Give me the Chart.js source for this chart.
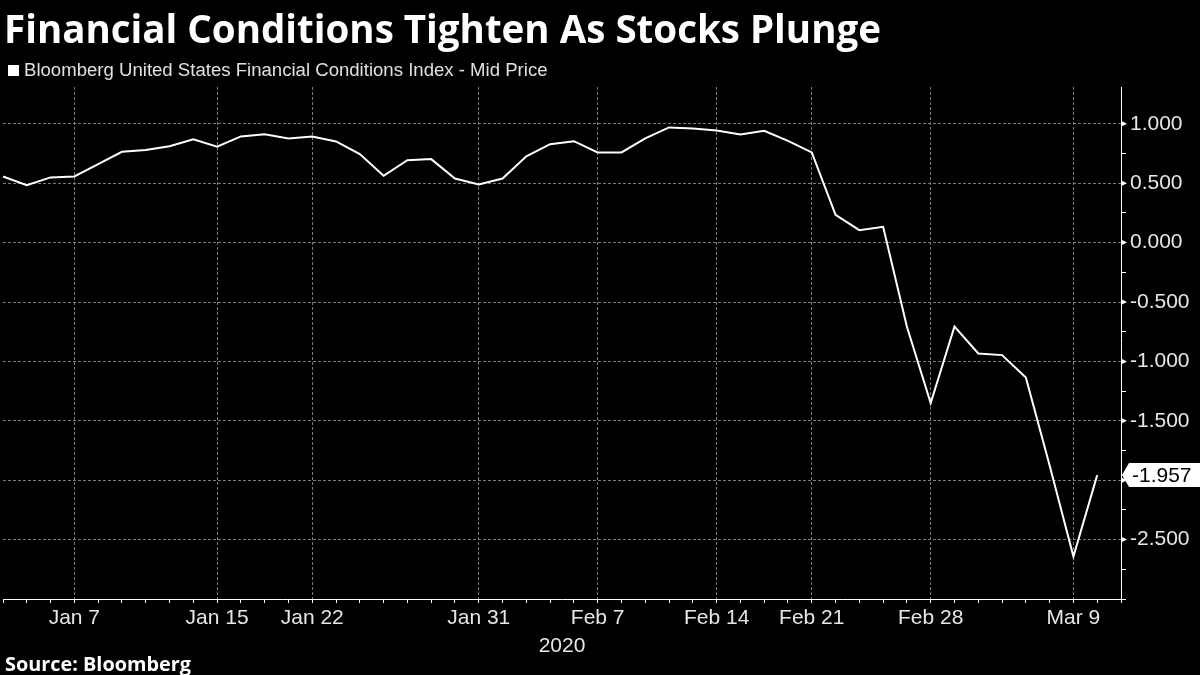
<!DOCTYPE html>
<html><head><meta charset="utf-8">
<script src="https://cdn.jsdelivr.net/npm/chart.js@4.4.1/dist/chart.umd.min.js"></script>
<style>
html,body{margin:0;padding:0;background:#000;}
#wrap{position:relative;width:1200px;height:675px;background:#000;overflow:hidden;}
#c{position:absolute;left:0;top:0;}
.t{position:absolute;white-space:nowrap;line-height:1;}
#title{left:4px;top:9px;font-family:"Open Sans";font-weight:bold;font-size:34px;color:#fff;}
#legend{left:8px;top:61px;font-family:"Liberation Sans";font-size:17px;color:#e0e0e0;}
#legend .sw{display:inline-block;width:11px;height:11px;background:#fff;margin-right:5px;vertical-align:0px;}
#source{left:5px;top:654px;font-family:"Open Sans";font-weight:bold;font-size:16px;color:#fff;}
</style></head>
<body><div id="wrap"><canvas id="c" width="1200" height="675"></canvas>
<div class="t" id="title">Financial Conditions Tighten As Stocks Plunge</div>
<div class="t" id="legend"><span class="sw"></span><span id="legtext">Bloomberg United States Financial Conditions Index - Mid Price</span></div>
<div class="t" id="source">Source: Bloomberg</div>
</div>
<script>
// ---- data ----
const dates = ["Jan 2","Jan 3","Jan 6","Jan 7","Jan 8","Jan 9","Jan 10","Jan 13","Jan 14","Jan 15",
  "Jan 16","Jan 17","Jan 21","Jan 22","Jan 23","Jan 24","Jan 27","Jan 28","Jan 29","Jan 30","Jan 31",
  "Feb 3","Feb 4","Feb 5","Feb 6","Feb 7","Feb 10","Feb 11","Feb 12","Feb 13","Feb 14",
  "Feb 18","Feb 19","Feb 20","Feb 21","Feb 24","Feb 25","Feb 26","Feb 27","Feb 28",
  "Mar 2","Mar 3","Mar 4","Mar 5","Mar 6","Mar 9","Mar 10","Mar 11"];
const fciValues = [0.557,0.484,0.549,0.557,0.661,0.765,0.779,0.812,0.869,0.807,
  0.894,0.913,0.877,0.894,0.852,0.745,0.562,0.694,0.703,0.540,0.490,
  0.540,0.726,0.829,0.854,0.759,0.759,0.877,0.970,0.961,0.944,
  0.911,0.941,0.857,0.759,0.234,0.105,0.133,-0.709,-1.351,
  -0.706,-0.933,-0.947,-1.135,-1.876,-2.642,-1.957,null];
const shownLabels = ["Jan 7","Jan 15","Jan 22","Jan 31","Feb 7","Feb 14","Feb 21","Feb 28","Mar 9"];
const yearLabel = "2020";
const lastValue = -1.957;
const yMin = -3.0, yMax = 1.31, yStep = 0.25, yMajor = 0.5;
const yLabelMin = -2.5, yLabelMax = 1.0;

// ---- text fitting ----
function fitWidth(el, target){
  const w = el.getBoundingClientRect().width;
  const fs = parseFloat(getComputedStyle(el).fontSize);
  el.style.fontSize = (fs*target/w).toFixed(2)+'px';
}
fitWidth(document.getElementById('title'), 877);
fitWidth(document.getElementById('legtext'), 524);
fitWidth(document.getElementById('source'), 186);

const gridColor = '#7a7a7a';
const axisFont = {family:'Liberation Sans', size:21};
const isMult = (v, s) => Math.abs(v/s - Math.round(v/s)) < 1e-6;
const isMajorVal = v => isMult(v, yMajor) && v >= yLabelMin - 1e-6 && v <= yLabelMax + 1e-6;

const markerPlugin = {
  id:'markers',
  afterDraw(chart){
    const c = chart.ctx, ys = chart.scales.y, area = chart.chartArea;
    c.save();
    c.fillStyle = '#fff';
    ys.ticks.forEach(t => {
      if (!isMajorVal(t.value)) return;
      const y = ys.getPixelForValue(t.value);
      c.beginPath();
      c.moveTo(area.right, y-3);
      c.lineTo(area.right+6, y);
      c.lineTo(area.right, y+3);
      c.closePath();
      c.fill();
    });
    // last value label
    const y = ys.getPixelForValue(lastValue);
    const x0 = area.right + 1, h = 24;
    c.beginPath();
    c.moveTo(x0, y);
    c.lineTo(x0+7, y-h/2);
    c.lineTo(1200, y-h/2);
    c.lineTo(1200, y+h/2);
    c.lineTo(x0+7, y+h/2);
    c.closePath();
    c.fill();
    c.fillStyle = '#000';
    c.font = axisFont.size+'px "'+axisFont.family+'"';
    c.textAlign = 'left';
    c.textBaseline = 'middle';
    c.fillText(lastValue.toFixed(3), area.right + 11, y+1);
    c.restore();
  }
};

new Chart(document.getElementById('c'), {
  type:'line',
  data:{labels:dates, datasets:[{
    label:'Bloomberg United States Financial Conditions Index - Mid Price',
    data:fciValues, borderColor:'#ffffff', borderWidth:2, pointRadius:0, tension:0,
    borderJoinStyle:'miter'
  }]},
  options:{
    responsive:false, animation:false, devicePixelRatio:1,
    layout:{padding:{top:87,left:0,right:0,bottom:16}},
    plugins:{legend:{display:false}, title:{display:false}, tooltip:{enabled:false}},
    scales:{
      x:{
        type:'category', offset:false,
        grid:{
          color: ctx => (ctx.tick && shownLabels.includes(dates[ctx.index])) ? gridColor : 'rgba(0,0,0,0)',
          lineWidth:1, tickColor:'#ffffff', tickLength:4, drawTicks:true
        },
        border:{display:true, color:'#ffffff', width:1, dash:[3,2]},
        ticks:{autoSkip:false, maxRotation:0, minRotation:0, color:'#e6e6e6', font:axisFont, padding:3,
          callback:(v,i) => shownLabels.includes(dates[i]) ? dates[i] : ''},
        title:{display:true, text:yearLabel, color:'#e6e6e6', font:axisFont, padding:{top:0,bottom:0}},
        afterFit: s => { s.height = 60; }
      },
      y:{
        position:'right', min:yMin, max:yMax,
        grid:{
          color: ctx => (ctx.tick && isMajorVal(ctx.tick.value)) ? gridColor : 'rgba(0,0,0,0)',
          tickColor: ctx => (ctx.tick && isMult(ctx.tick.value, yStep) && !isMajorVal(ctx.tick.value)) ? '#ffffff' : 'rgba(0,0,0,0)',
          lineWidth:1, tickLength:5
        },
        border:{display:true, color:'#ffffff', width:1, dash:[3,2]},
        ticks:{stepSize:yStep, color:'#e6e6e6', font:axisFont, padding:4, autoSkip:false,
          callback: v => (isMajorVal(v) && Math.abs(v - (-2)) > 1e-6) ? v.toFixed(3) : ''},
        afterFit: s => { s.width = 79; }
      }
    }
  },
  plugins:[markerPlugin]
});
</script>
</body></html>
